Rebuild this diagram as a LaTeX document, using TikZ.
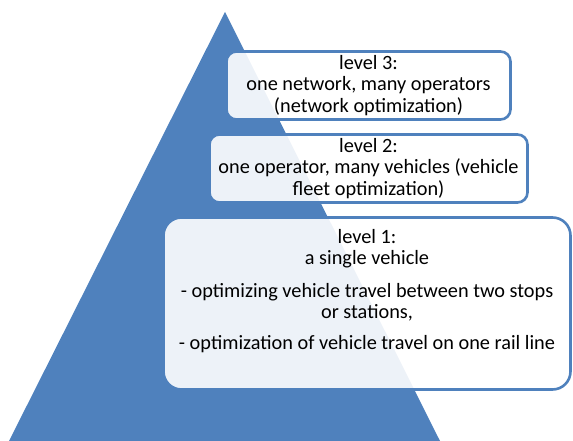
\documentclass[tikz,border=0pt]{standalone}
\usepackage{fontspec}
\setmainfont{Carlito}
\usepackage{xcolor}
\definecolor{cb}{HTML}{4F81BD}
\usepackage{tikz}
\usetikzlibrary{positioning}

\begin{document}
\begin{tikzpicture}[
  x=1pt, y=-1pt,
  lvl/.style={rectangle, draw=cb, line width=2.6pt, fill=white, fill opacity=0.9, text opacity=1,
    rounded corners=10pt, align=center, font=\fontsize{20.3}{21.5}\selectfont},
  lvltext/.style={align=center, inner sep=0pt, font=\fontsize{20.3}{21.5}\selectfont},
]
  \useasboundingbox (0,0) rectangle (573,441);
  % pyramid
  \fill[cb] (225,12) -- (440,441) -- (9,441) -- cycle;

  \node[lvl, minimum width=284pt, minimum height=68pt] (lvl3) at (368.5,85.5)
    {level 3:\\one network, many operators\\(network optimization)};
  \node[lvl, minimum width=318pt, minimum height=68pt] (lvl2) at (368.5,168.5)
    {level 2:\\one operator, many vehicles (vehicle\\fleet optimization)};
  \node[lvl, rounded corners=18pt, minimum width=407pt, minimum height=172pt] (lvl1) at (367,303.5) {};
  \node[lvltext, anchor=north] (lvl1txt) at (367,229)
    {level 1:\\a single vehicle\\[11pt]- optimizing vehicle travel between two stops\\or stations,\\[9pt]- optimization of vehicle travel on one rail line};
\end{tikzpicture}
\end{document}
